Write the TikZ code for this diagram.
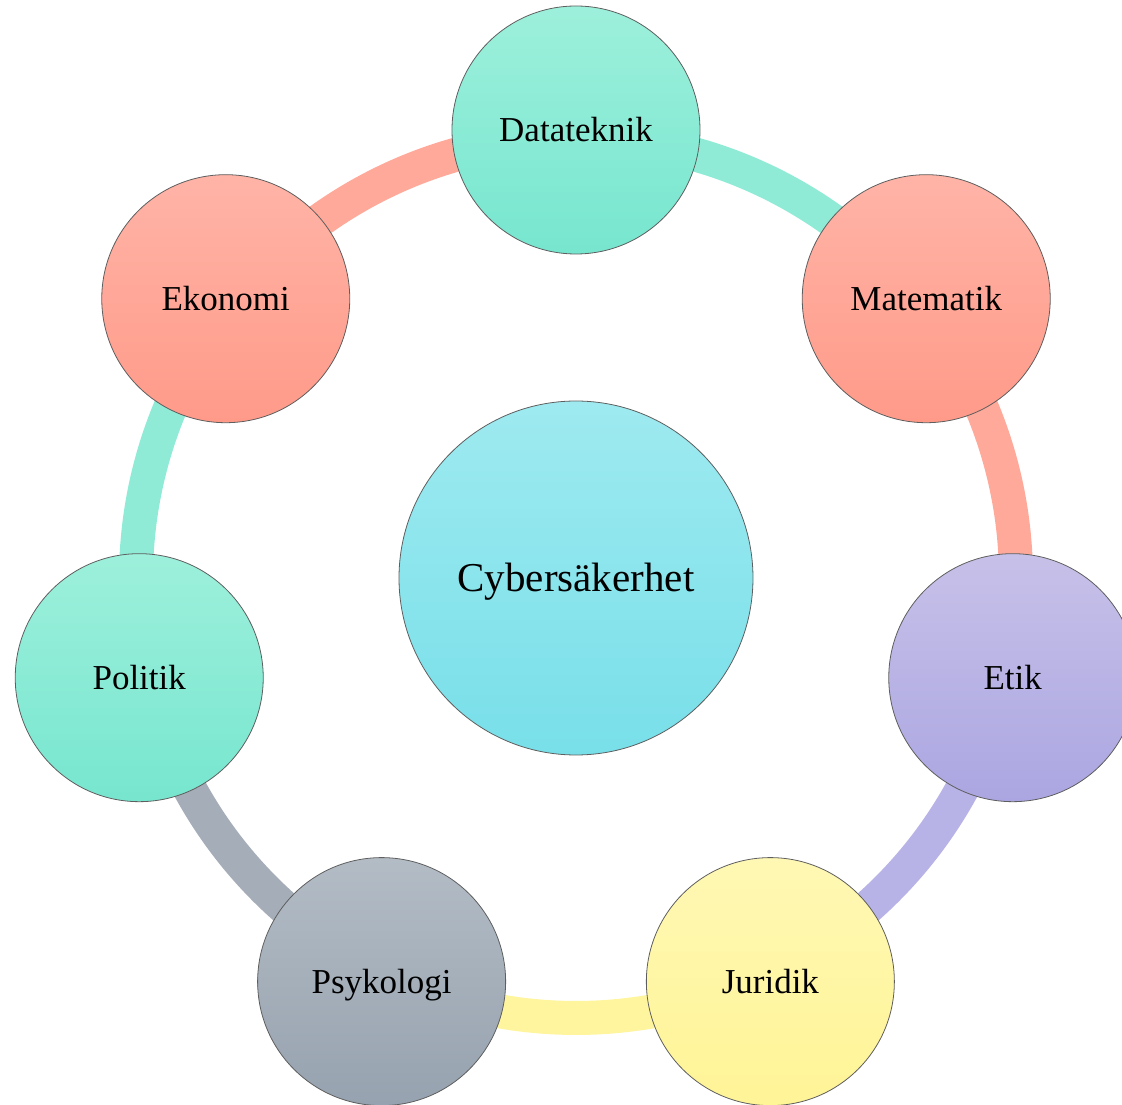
\documentclass[tikz,border=0pt]{standalone}
\usepackage{fontspec}
\setmainfont{Liberation Serif}
\usepackage{xcolor}
\usepackage{tikz}

\definecolor{edgegray}{HTML}{5E5E5E}
\definecolor{cyantop}{HTML}{9EEAF0}
\definecolor{cyanbot}{HTML}{78DFE9}
\definecolor{tealtop}{HTML}{9DF0DB}
\definecolor{tealbot}{HTML}{77E6CF}
\definecolor{tealband}{HTML}{90EBD6}
\definecolor{salmontop}{HTML}{FFB4A7}
\definecolor{salmonbot}{HTML}{FF9A89}
\definecolor{salmonband}{HTML}{FFA99A}
\definecolor{lilactop}{HTML}{C7C1E9}
\definecolor{lilacbot}{HTML}{ABA6E1}
\definecolor{lilacband}{HTML}{B8B3E6}
\definecolor{lemontop}{HTML}{FFF8B4}
\definecolor{lemonbot}{HTML}{FFF496}
\definecolor{lemonband}{HTML}{FFF59E}
\definecolor{slatetop}{HTML}{B3BCC5}
\definecolor{slatebot}{HTML}{96A2AF}
\definecolor{slateband}{HTML}{A5AEB8}

\tikzset{
  field/.style={circle, draw=edgegray, line width=0.8pt, minimum size=248pt,
    inner sep=0pt, text height=23pt, text depth=0pt,
    font=\fontsize{35}{40}\selectfont},
  corebox/.style={field, minimum size=354pt, text height=27pt,
    font=\fontsize{41}{48}\selectfont,
    top color=cyantop, bottom color=cyanbot},
  teal/.style={top color=tealtop, bottom color=tealbot},
  salmon/.style={top color=salmontop, bottom color=salmonbot},
  lilac/.style={top color=lilactop, bottom color=lilacbot},
  lemon/.style={top color=lemontop, bottom color=lemonbot},
  slate/.style={top color=slatetop, bottom color=slatebot},
  band/.style={line width=34pt},
}

\begin{document}
\begin{tikzpicture}[x=1pt,y=1pt]
  \useasboundingbox (-576,-527) rectangle (546,578);

  % ring points
  \coordinate (r0) at (90:440);
  \coordinate (r1) at (38.571:440);
  \coordinate (r2) at (-12.857:440);
  \coordinate (r3) at (-64.286:440);
  \coordinate (r4) at (-115.714:440);
  \coordinate (r5) at (-167.143:440);
  \coordinate (r6) at (141.429:440);

  % ring
  \draw[band, tealband] (r0) arc[start angle=90, end angle=38.571, radius=440pt];
  \draw[band, salmonband] (r1) arc[start angle=38.571, end angle=-12.857, radius=440pt];
  \draw[band, lilacband] (r2) arc[start angle=-12.857, end angle=-64.286, radius=440pt];
  \draw[band, lemonband] (r3) arc[start angle=-64.286, end angle=-115.714, radius=440pt];
  \draw[band, slateband] (r4) arc[start angle=-115.714, end angle=-167.143, radius=440pt];
  \draw[band, tealband] (r5) arc[start angle=-167.143, end angle=-218.571, radius=440pt];
  \draw[band, salmonband] (r6) arc[start angle=141.429, end angle=90, radius=440pt];

  % fields
  \node[corebox] (core) at (0,0) {Cybersäkerhet};
  \node[field, teal] (data) at (90:448) {Datateknik};
  \node[field, salmon] (mate) at (38.571:448) {Matematik};
  \node[field, lilac] (etik) at (-12.857:448) {Etik};
  \node[field, lemon] (juri) at (-64.286:448) {Juridik};
  \node[field, slate] (psyk) at (-115.714:448) {Psykologi};
  \node[field, teal] (poli) at (-167.143:448) {Politik};
  \node[field, salmon] (ekon) at (141.429:448) {Ekonomi};
\end{tikzpicture}
\end{document}
